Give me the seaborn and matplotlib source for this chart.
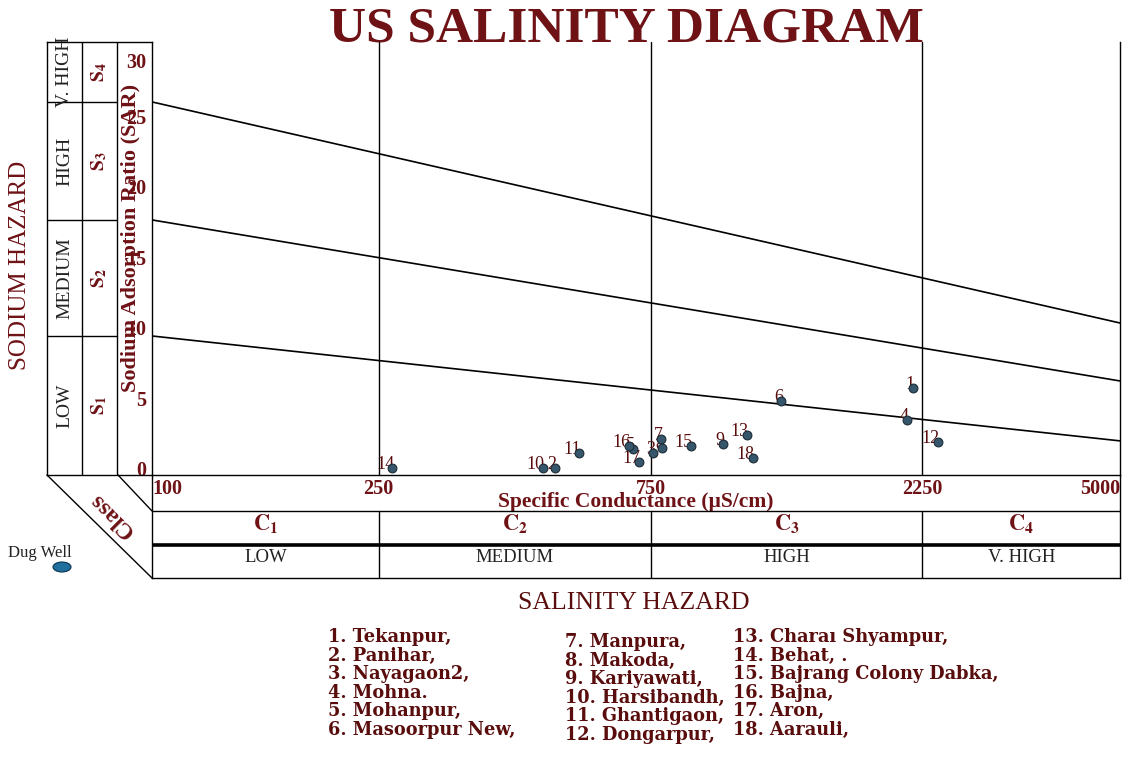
import numpy as np
import pandas as pd
import matplotlib
matplotlib.use("Agg")
import matplotlib.pyplot as plt
from matplotlib.ticker import NullLocator
from matplotlib.patches import Ellipse
from matplotlib.transforms import ScaledTranslation
import seaborn as sns

# ---------------- data ----------------
site_ids = [str(i) for i in range(1, 19)]
site_names = ["Tekanpur,", "Panihar,", "Nayagaon2,", "Mohna.", "Mohanpur,",
              "Masoorpur New,", "Manpura,", "Makoda,", "Kariyawati,", "Harsibandh,",
              "Ghantigaon,", "Dongarpur,", "Charaı Shyampur,", "Behat, .",
              "Bajrang Colony Dabka,", "Bajna,", "Aron,", "Aarauli,"]
ec_values = [2163, 509, 757, 2112, 698, 1269, 782, 785, 1004, 485,
             561, 2393, 1106, 264, 882, 687, 715, 1133]
sar_values = [5.74, 0.07, 1.13, 3.48, 1.42, 4.82, 2.13, 1.49, 1.77, 0.07,
              1.13, 1.91, 2.41, 0.07, 1.63, 1.63, 0.50, 0.78]

ec_class_bounds = [250, 750, 2250]
ec_ticks = [100, 250, 750, 2250, 5000]
ec_tick_labels = ["100", "250", "750", "2250", "5000"]
salinity_classes = [r"$\mathbf{C_1}$", r"$\mathbf{C_2}$", r"$\mathbf{C_3}$", r"$\mathbf{C_4}$"]
salinity_levels = ["LOW", "MEDIUM", "HIGH", "V. HIGH"]
sodium_classes = [r"$\mathbf{S_1}$", r"$\mathbf{S_2}$", r"$\mathbf{S_3}$", r"$\mathbf{S_4}$"]
sodium_levels = ["LOW", "MEDIUM", "HIGH", "V. HIGH"]
sar_ticks = [0, 5, 10, 15, 20, 25, 30]
sar_tick_labels = ["0", "5", "10", "15", "20", "25", "30"]
boundary_ec = [100, 5000]
boundary_s1_s2 = [9.43, 1.99]
boundary_s2_s3 = [17.66, 6.24]
boundary_s3_s4 = [26.03, 10.35]

# ---------------- style ----------------
sns.set_style("white")
plt.rcParams["font.family"] = ["Liberation Serif", "DejaVu Serif"]
plt.rcParams["mathtext.fontset"] = "stix"

RED = "#6e1216"
DRED = "#5a0d0d"
INK = "#222222"
W, H = 1122, 772

def box(x0, y0, x1, y1):
    return [x0 / W, 1 - y1 / H, (x1 - x0) / W, (y1 - y0) / H]

fig = plt.figure(figsize=(W / 100, H / 100), dpi=100)
fig.patch.set_facecolor("white")

# overlay for decorative text (pixel coordinates)
ov = fig.add_axes([0, 0, 1, 1], facecolor="none")
ov.set_xlim(0, W)
ov.set_ylim(H, 0)
ov.axis("off")

SAR_LO, SAR_HI = -0.43, 30.28

# ---------------- main scatter axes ----------------
ax = fig.add_axes(box(152, 42, 1120, 475), facecolor="none")
ax.set_xscale("log")
ax.set_xlim(100, 5000)
ax.set_ylim(SAR_LO, SAR_HI)

df = pd.DataFrame({"EC": ec_values, "SAR": sar_values, "id": site_ids})
for bnd in (boundary_s1_s2, boundary_s2_s3, boundary_s3_s4):
    sns.lineplot(x=boundary_ec, y=bnd, ax=ax, color="black", lw=1.2, zorder=2)
for xb in ec_class_bounds:
    ax.axvline(xb, color="black", lw=1.0, zorder=1)
sns.scatterplot(data=df, x="EC", y="SAR", ax=ax, s=40, color="#35566b",
                edgecolor="#1c2b36", linewidth=0.8, zorder=4, legend=False)
for _, r in df.iterrows():
    ax.annotate(r["id"], (r["EC"], r["SAR"]), xytext=(1.5, -0.5),
                textcoords="offset points", ha="right", va="baseline",
                fontsize=13, color=DRED, zorder=3)

ax.spines["top"].set_visible(False)
for s in ["left", "right", "bottom"]:
    ax.spines[s].set_color("black")
    ax.spines[s].set_linewidth(1.0)

ax.xaxis.set_minor_locator(NullLocator())
ax.set_xticks(ec_ticks)
ax.set_xticklabels(ec_tick_labels)
ax.set_yticks(sar_ticks)
ax.set_yticklabels(sar_tick_labels)
ax.tick_params(axis="both", length=0, labelsize=14.5, labelcolor=RED)
ax.tick_params(axis="x", pad=3)
ax.tick_params(axis="y", pad=4)
for lab in ax.get_xticklabels() + ax.get_yticklabels():
    lab.set_fontweight("bold")
xl = ax.get_xticklabels()
xl[0].set_ha("left")
xl[-1].set_ha("right")
yl = ax.get_yticklabels()
yl[-1].set_va("top")
yl[-1].set_transform(yl[-1].get_transform()
                     + ScaledTranslation(0, -5 / 72, fig.dpi_scale_trans))

ax.set_xlabel("Specific Conductance (µS/cm)", fontsize=15.5, fontweight="bold",
              color=RED, labelpad=-5)
ax.set_ylabel("Sodium Adsorption Ratio (SAR)", fontsize=16, fontweight="bold",
              color=RED)
ax.yaxis.set_label_coords(-0.0217, 0.547)
ax.yaxis.label.set_va("center")

# ---------------- left sodium-hazard panel ----------------
axl = fig.add_axes(box(47, 42, 152, 475), facecolor="none")
axl.set_xlim(0, 3)
axl.set_ylim(SAR_LO, SAR_HI)
axl.set_xticks([])
axl.set_yticks([])
axl.spines["right"].set_visible(False)
for s in ["left", "top", "bottom"]:
    axl.spines[s].set_color("black")
    axl.spines[s].set_linewidth(1.0)
axl.axvline(1, color="black", lw=1.0)
axl.axvline(2, color="black", lw=1.0)
s_edges = [SAR_LO, boundary_s1_s2[0], boundary_s2_s3[0], boundary_s3_s4[0], SAR_HI]
for yb in s_edges[1:-1]:
    axl.plot([0, 2], [yb, yb], color="black", lw=1.0)
for i in range(4):
    yc = (s_edges[i] + s_edges[i + 1]) / 2
    axl.text(0.5, yc, sodium_levels[i], rotation=90, ha="center", va="center",
             fontsize=14, color=INK)
    axl.text(1.5, yc, sodium_classes[i], rotation=90, ha="center", va="center",
             fontsize=14, color=RED)

# ---------------- bottom salinity class table ----------------
axb = fig.add_axes(box(152, 475, 1120, 578), facecolor="none")
axb.set_xscale("log")
axb.set_xlim(100, 5000)
axb.set_ylim(578, 475)
axb.xaxis.set_minor_locator(NullLocator())
axb.set_xticks([])
axb.set_yticks([])
axb.spines["top"].set_visible(False)
for s in ["left", "right", "bottom"]:
    axb.spines[s].set_color("black")
    axb.spines[s].set_linewidth(1.0)
axb.axhline(511, color="black", lw=1.0)
axb.axhline(545, color="black", lw=2.6)
for xb in ec_class_bounds:
    axb.plot([xb, xb], [511, 578], color="black", lw=1.0)
c_edges = [100] + ec_class_bounds + [5000]
for i in range(4):
    xc = np.sqrt(c_edges[i] * c_edges[i + 1])
    axb.text(xc, 524, salinity_classes[i], ha="center", va="center",
             fontsize=16, color=RED)
    axb.text(xc, 558, salinity_levels[i], ha="center", va="center",
             fontsize=13.5, color=INK)

# ---------------- decorations ----------------
ov.plot([47, 152], [475, 578], color="black", lw=1.0)
ov.plot([118, 152], [475, 511], color="black", lw=1.0)
ov.text(112, 515, "Class", rotation=135, rotation_mode="anchor", ha="center",
        va="center", fontsize=17, fontweight="bold", color=RED)
ov.text(626, 30, "US SALINITY DIAGRAM", ha="center", va="center",
        fontsize=37, fontweight="bold", color=RED)
ov.text(20, 265, "SODIUM HAZARD", rotation=90, ha="center", va="center",
        fontsize=18, color=RED)
ov.text(634, 603, "SALINITY HAZARD", ha="center", va="center",
        fontsize=18.5, color=DRED)
ov.text(40, 553, "Dug Well", ha="center", va="center", fontsize=12, color=INK)
ov.add_patch(Ellipse((62, 567), 18, 10, facecolor="#1f6e9e",
                     edgecolor="#0e3550", lw=0.8))

col_x = [328, 565, 733]
col_y0 = [637, 642, 637]
for c in range(3):
    for k in range(6):
        i = c * 6 + k
        ov.text(col_x[c], col_y0[c] + k * 18.6, f"{site_ids[i]}. {site_names[i]}",
                ha="left", va="center", fontsize=12.8, fontweight="bold",
                color=DRED, family=["DejaVu Serif"])

fig.savefig("out.png", dpi=100, facecolor="white")
